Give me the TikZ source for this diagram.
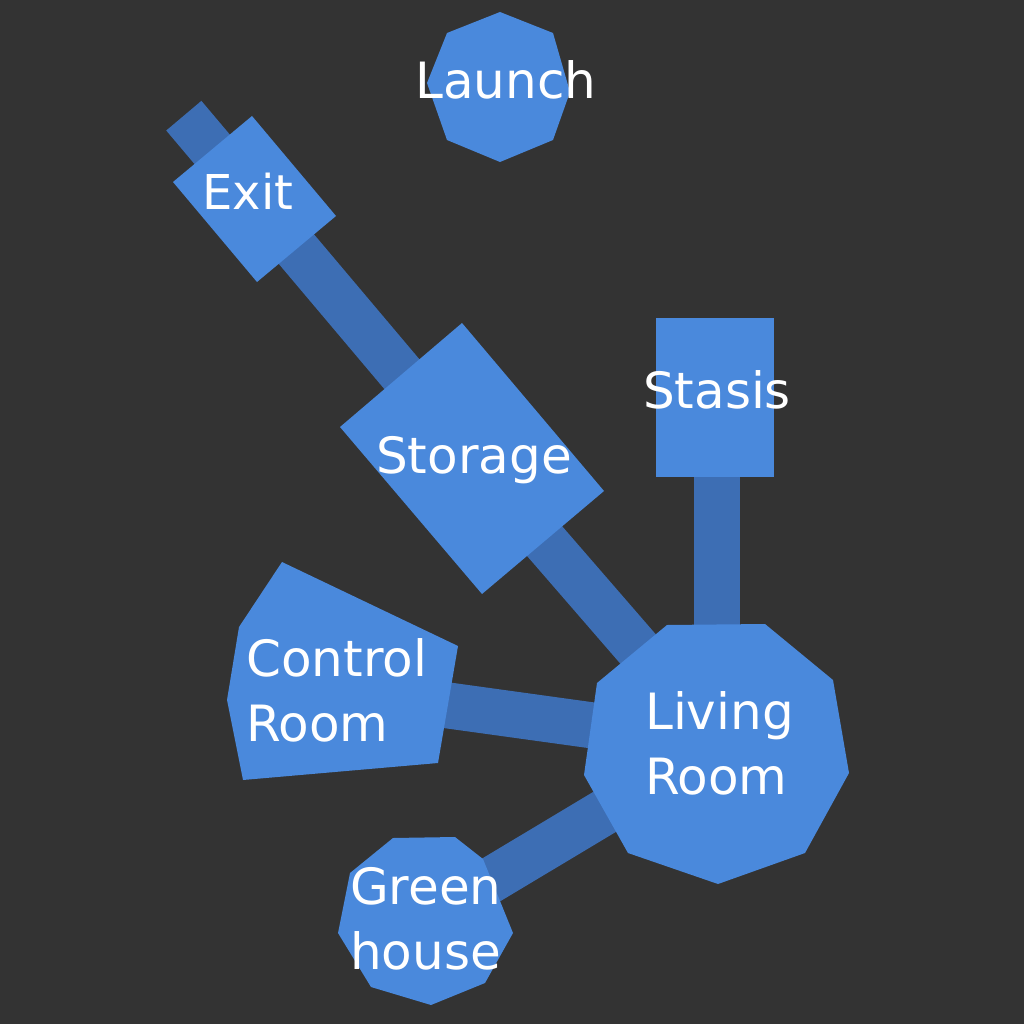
\documentclass[tikz,border=0pt]{standalone}
\usepackage{fontspec}
\setmainfont{DejaVu Sans}
\usetikzlibrary{calc}
\definecolor{bgc}{HTML}{333333}
\definecolor{room}{HTML}{4A89DC}
\definecolor{link}{HTML}{3D6EB4}
\pgfdeclarelayer{bg}
\pgfdeclarelayer{mid}
\pgfsetlayers{bg,mid,main}
\tikzset{
  lbl/.style={text=white, inner sep=0pt, font=\fontsize{50}{65}\selectfont, align=left},
  roomfill/.style={fill=room},
  conn/.style={draw=link, line width=46pt, line cap=butt}
}
\begin{document}
\begin{tikzpicture}[x=1pt,y=-1pt]
\useasboundingbox (0,0) rectangle (1024,1024);
% labels (room nodes)
\node[lbl, anchor=base] (launch) at (506,99) {Launch};
\node[lbl, anchor=base, font=\fontsize{48}{60}\selectfont] (exit) at (248,210) {Exit};
\node[lbl, anchor=base] (storage) at (474,473) {Storage};
\node[lbl, anchor=base] (stasis) at (717,408) {Stasis};
\node[lbl, anchor=west] (control) at (246,690) {Control\\Room};
\node[lbl, anchor=west] (living) at (645,743) {Living\\Room};
\node[lbl, anchor=west] (green) at (350,919) {Green\\house};
\coordinate (stub) at ($(exit.center)!-0.284!(storage.center)$);
% room shapes
\begin{pgfonlayer}{mid}
\fill[roomfill] (500,12) -- (553,33) -- (570,92) -- (553,140) -- (500,162) -- (447,140) -- (427,83) -- (447,33) -- cycle;
\fill[roomfill] (173,182) -- (252,116) -- (336,216) -- (257,282) -- cycle;
\fill[roomfill] (340,427) -- (462,323) -- (604,491) -- (482,594) -- cycle;
\fill[roomfill] (656,318) rectangle (774,477);
\fill[roomfill] (282,562) -- (458,646) -- (438,763) -- (243,780) -- (227,700) -- (239,627) -- cycle;
\fill[roomfill] (667,625) -- (765,624) -- (833,680) -- (849,773) -- (805,853) -- (718,884) -- (628,853) -- (584,775) -- (597,683) -- cycle;
\fill[roomfill] (393,838) -- (455,837) -- (483,859) -- (513,933) -- (485,983) -- (431,1005) -- (371,987) -- (338,933) -- (350,873) -- cycle;
\end{pgfonlayer}
% connectors
\begin{pgfonlayer}{bg}
\fill[bgc] (0,0) rectangle (1024,1024);
\draw[conn] (exit.center) -- (stub);
\draw[conn] (exit.center) -- (storage.center);
\draw[conn] (storage.center) -- (living.center);
\draw[conn] (stasis.center) -- (stasis.center |- living.center);
\draw[conn] (control.center) -- (living.center);
\draw[conn] (green.center) -- (living.center);
\end{pgfonlayer}
\end{tikzpicture}
\end{document}
